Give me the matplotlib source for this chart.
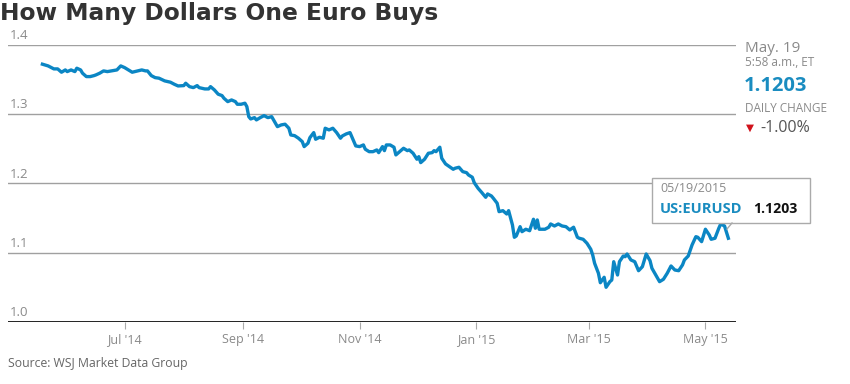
import matplotlib
matplotlib.use("Agg")
import matplotlib.pyplot as plt
import pandas as pd
from matplotlib.lines import Line2D
from matplotlib.patches import Rectangle

# EUR/USD: days counted from 1 Jul 2014, and the rate
days = [-43, -40, -37, -35, -33, -31, -30, -28, -26, -25, -23, -22, -20, -18, -16, -15,
        -13, -11, -9, -7, -4, -2, 0, 2, 4, 7, 9, 11, 12, 14, 16, 18, 21, 24, 26, 28,
        31, 32, 34, 36, 38, 39, 42, 44, 45, 47, 49, 51, 52, 54, 56, 58, 59, 61, 63, 64,
        65, 66, 68, 69, 71, 73, 75, 77, 79, 80, 82, 84, 86, 87, 89, 91, 93, 94, 96, 97,
        99, 100, 102, 104, 105, 107, 109, 111, 113, 114, 116, 118, 120, 121, 123, 125,
        126, 128, 130, 132, 133, 135, 136, 137, 139, 141, 142, 144, 146, 148, 149, 151,
        153, 154, 155, 157, 159, 161, 162, 163, 165, 166, 168, 170, 172, 173, 175, 177,
        179, 180, 182, 183, 185, 187, 189, 190, 192, 193, 195, 196, 198, 200, 201, 203,
        204, 205, 207, 208, 210, 212, 214, 215, 216, 217, 220, 222, 223, 225, 227, 229,
        231, 233, 235, 237, 238, 240, 242, 244, 245, 246, 248, 249, 251, 252, 254, 255,
        256, 258, 259, 261, 262, 263, 265, 267, 269, 271, 273, 275, 276, 278, 280, 282,
        284, 286, 288, 290, 292, 293, 295, 297, 299, 300, 302, 304, 306, 307, 309, 311,
        312, 314, 316]
rate = [1.3719, 1.3694, 1.3651, 1.3651, 1.3603, 1.3636, 1.3612, 1.3636, 1.3612, 1.3661,
        1.3636, 1.3589, 1.3540, 1.3540, 1.3554, 1.3564, 1.3589, 1.3622, 1.3612, 1.3622,
        1.3636, 1.3694, 1.3670, 1.3636, 1.3603, 1.3622, 1.3636, 1.3622, 1.3622, 1.3554,
        1.3525, 1.3517, 1.3478, 1.3459, 1.3430, 1.3405, 1.3410, 1.3444, 1.3395, 1.3381,
        1.3410, 1.3381, 1.3362, 1.3362, 1.3395, 1.3348, 1.3286, 1.3266, 1.3228, 1.3179,
        1.3203, 1.3179, 1.3141, 1.3141, 1.3156, 1.3107, 1.2962, 1.2929, 1.2948, 1.2915,
        1.2948, 1.2977, 1.2948, 1.2962, 1.2867, 1.2818, 1.2843, 1.2853, 1.2795, 1.2698,
        1.2688, 1.2651, 1.2602, 1.2530, 1.2579, 1.2659, 1.2732, 1.2636, 1.2665, 1.2651,
        1.2795, 1.2771, 1.2795, 1.2732, 1.2651, 1.2684, 1.2713, 1.2732, 1.2602, 1.2540,
        1.2530, 1.2554, 1.2492, 1.2457, 1.2457, 1.2482, 1.2443, 1.2530, 1.2472, 1.2554,
        1.2554, 1.2521, 1.2410, 1.2457, 1.2506, 1.2472, 1.2482, 1.2434, 1.2348, 1.2385,
        1.2299, 1.2348, 1.2434, 1.2443, 1.2472, 1.2457, 1.2521, 1.2362, 1.2280, 1.2241,
        1.2203, 1.2218, 1.2232, 1.2169, 1.2154, 1.2121, 1.2088, 1.2010, 1.1929, 1.1866,
        1.1799, 1.1847, 1.1818, 1.1785, 1.1713, 1.1592, 1.1606, 1.1558, 1.1606, 1.1400,
        1.1222, 1.1241, 1.1375, 1.1303, 1.1338, 1.1317, 1.1482, 1.1352, 1.1472, 1.1338,
        1.1338, 1.1367, 1.1414, 1.1385, 1.1414, 1.1385, 1.1375, 1.1328, 1.1367, 1.1222,
        1.1208, 1.1193, 1.1136, 1.1049, 1.0967, 1.0847, 1.0703, 1.0567, 1.0645, 1.0501,
        1.0582, 1.0606, 1.0870, 1.0678, 1.0870, 1.0952, 1.0942, 1.0981, 1.0895, 1.0870,
        1.0740, 1.0798, 1.0981, 1.0885, 1.0775, 1.0678, 1.0582, 1.0616, 1.0703, 1.0808,
        1.0750, 1.0740, 1.0823, 1.0895, 1.0952, 1.1111, 1.1231, 1.1222, 1.1159, 1.1338,
        1.1255, 1.1193, 1.1208, 1.1352, 1.1414, 1.1385, 1.1208]

y_ticks = [1.0, 1.1, 1.2, 1.3, 1.4]
x_ticks = ["2014-07-01", "2014-09-01", "2014-11-01", "2015-01-01", "2015-03-01", "2015-05-01"]
x_labels = ["Jul '14", "Sep '14", "Nov '14", "Jan '15", "Mar '15", "May '15"]

dates = pd.Timestamp("2014-07-01") + pd.to_timedelta(days, unit="D")

W, H = 850, 384
BLUE = "#0b86c4"
GREY = "#8a8a8a"
plt.rcParams["font.family"] = ["Open Sans", "DejaVu Sans"]

fig = plt.figure(figsize=(W / 100, H / 100), dpi=100)
ax = fig.add_axes([8 / W, 1 - 322 / H, 728 / W, 277.3 / H])

ax.plot(dates, rate, color=BLUE, lw=2.4, solid_joinstyle="round", zorder=3)
ax.set_ylim(1.0, 1.4)
ax.set_xlim(pd.Timestamp("2014-05-01"), pd.Timestamp("2015-05-17"))

for s in ax.spines.values():
    s.set_visible(False)
ax.set_yticks([])
for v in y_ticks[1:]:
    ax.axhline(v, color="#a0a0a0", lw=1, zorder=1)
    ax.text(0.002, v + 0.004, f"{v:.1f}", transform=ax.get_yaxis_transform(),
            color=GREY, fontsize=9.5, ha="left", va="bottom")
ax.axhline(1.0, color="#222222", lw=1.4, zorder=2)
ax.text(0.002, 1.004, "1.0", transform=ax.get_yaxis_transform(),
        color=GREY, fontsize=9.5, ha="left", va="bottom")

ax.set_xticks(pd.to_datetime(x_ticks))
ax.set_xticklabels(x_labels)
ax.tick_params(axis="x", length=5, color="#aaaaaa", labelcolor=GREY, labelsize=9, pad=3)

# title and source
fig.text(0 / W, 1 - 20 / H, "How Many Dollars One Euro Buys", fontsize=16.8, fontweight="bold",
         color="#333333", va="baseline", ha="left", family=["DejaVu Sans"])
fig.text(8 / W, 1 - 364 / H, "Source: WSJ Market Data Group", fontsize=8.8, color="#666666",
         va="center", ha="left")

# right-hand quote panel
fig.text(745 / W, 1 - 48 / H, "May. 19", fontsize=11, color=GREY, va="center")
fig.text(745 / W, 1 - 63 / H, "5:58 a.m., ET", fontsize=8.5, color=GREY, va="center")
fig.text(744 / W, 1 - 86 / H, "1.1203", fontsize=14.5, fontweight="bold", color="#1a8cc0", va="center")
fig.text(745 / W, 1 - 108 / H, "DAILY CHANGE", fontsize=8.5, color=GREY, va="center")
fig.text(746 / W, 1 - 128 / H, "\u25bc", fontsize=7.5, color="#d0121b", va="center",
         family=["DejaVu Sans"])
fig.text(760 / W, 1 - 128 / H, "-1.00%", fontsize=11.5, color="#555555", va="center")

# hover tooltip for the last point
fig.add_artist(Rectangle((652 / W, 1 - 223 / H), 158 / W, 45 / H, transform=fig.transFigure,
                         facecolor="white", edgecolor="#aaaaaa", lw=1, zorder=5))
fig.add_artist(Line2D([732 / W, 727 / W], [1 - 223 / H, 1 - 229 / H], color="#aaaaaa", lw=1, zorder=5))
fig.text(660 / W, 1 - 189 / H, "05/19/2015", fontsize=9, color=GREY, va="center", zorder=6)
fig.text(660 / W, 1 - 209 / H, "US:EURUSD", fontsize=10.5, fontweight="bold", color="#1a8cc0",
         va="center", zorder=6)
fig.text(753 / W, 1 - 209 / H, "1.1203", fontsize=10.2, fontweight="bold", color="#111111",
         va="center", zorder=6)

fig.savefig("out.png", dpi=100)
